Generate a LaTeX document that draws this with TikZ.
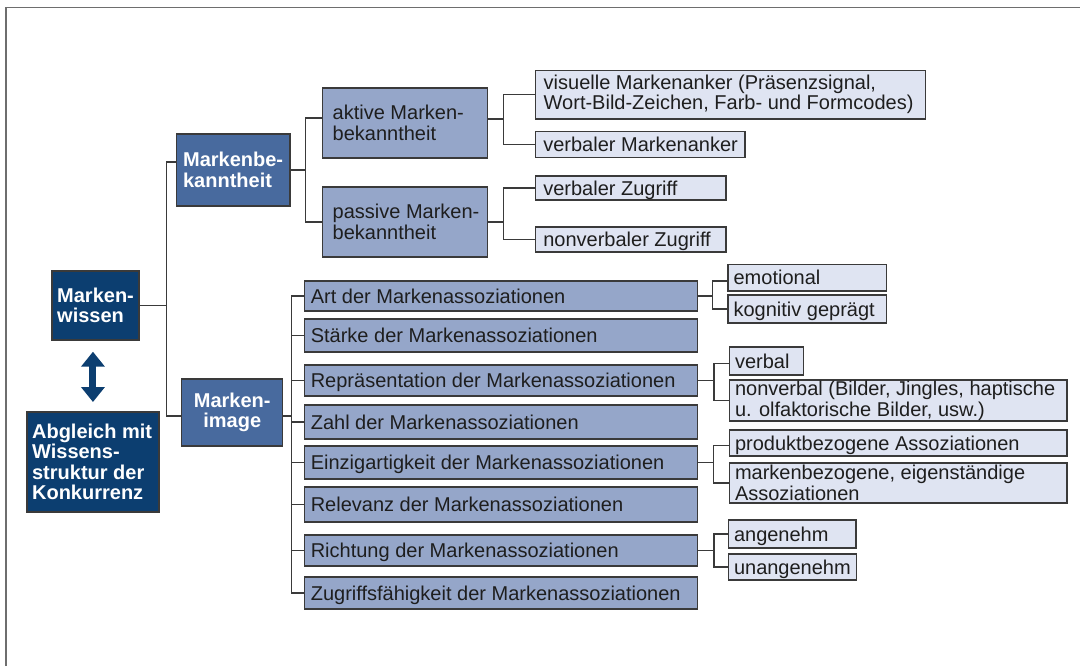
\documentclass[tikz,border=0pt]{standalone}
\usepackage{fontspec}
\setmainfont{Liberation Sans}
\usetikzlibrary{calc,arrows.meta}
\definecolor{navy}{RGB}{12,62,112}
\definecolor{midblue}{RGB}{72,106,158}
\definecolor{lightblue}{RGB}{149,166,201}
\definecolor{paleblue}{RGB}{223,228,242}
\definecolor{edgecol}{RGB}{58,58,58}
\definecolor{framecol}{RGB}{110,110,110}
\definecolor{ink}{RGB}{30,30,30}
% name, box style, text style, x1, y1, x2, y2, left pad (pt), text
\newcommand\mkbox[9]{%
  \pgfmathsetmacro\mkW{(#6-#4)*0.5}%
  \pgfmathsetmacro\mkH{(#7-#5)*0.5}%
  \node[#2, anchor=north west, minimum width=\mkW pt, minimum height=\mkH pt] (#1) at (#4,#5) {};
  \node[anchor=west, #3] (#1t) at ([xshift=#8pt]#1.west) {#9};}
\tikzset{
  box/.style={draw=edgecol, line width=0.65pt, inner sep=0pt, outer sep=0pt},
  navybox/.style={box, fill=navy},
  midbox/.style={box, fill=midblue},
  lightbox/.style={box, fill=lightblue},
  palebox/.style={box, fill=paleblue},
  wtxt/.style={inner sep=0pt, align=left, text=white, font=\bfseries\fontsize{10}{10.25}\selectfont},
  btxt/.style={inner sep=0pt, align=left, text=ink, font=\fontsize{10}{10}\selectfont},
  one/.style={btxt, text height=7.2pt, text depth=0pt},
  conn/.style={draw=edgecol, line width=0.65pt},
  thickconn/.style={draw=edgecol, line width=1.25pt},
}
\begin{document}
\begin{tikzpicture}[x=0.5pt, y=-0.5pt]
\useasboundingbox (0,0) rectangle (1080,666);
\fill[white] (0,0) rectangle (1080,666);
\draw[framecol, line width=0.8pt] (6.2,666) -- (6.2,7.3) -- (1080,7.3);

% left column
\mkbox{mw}{navybox}{wtxt}{52}{271}{139}{340}{2.4}{Marken-\\wissen}
\mkbox{ab}{navybox}{wtxt}{26.9}{412}{159}{512}{2.4}{Abgleich mit\\Wissens-\\struktur der\\Konkurrenz}
\mkbox{mb}{midbox}{wtxt}{176.7}{134}{290}{206}{3}{Markenbe-\\kanntheit}
\mkbox{mi}{midbox}{wtxt,align=center}{181.5}{379}{282.4}{446}{6}{Marken-\\image}

% Bekanntheit branch
\mkbox{ak}{lightbox}{btxt,font=\fontsize{10}{10.5}\selectfont}{322.7}{88}{487.3}{158}{4.8}{aktive Marken-\\bekanntheit}
\mkbox{pa}{lightbox}{btxt,font=\fontsize{10}{10.5}\selectfont}{322.7}{187}{487.3}{257}{4.8}{passive Marken-\\bekanntheit}
\mkbox{vis}{palebox}{btxt}{535.5}{70.3}{925.7}{119}{3.9}{visuelle Markenanker (Präsenzsignal,\\Wort-Bild-Zeichen, Farb- und Formcodes)}
\mkbox{vm}{palebox}{one}{535.5}{131.7}{744.9}{157.3}{3.7}{verbaler Markenanker}
\mkbox{vz}{palebox}{one}{535.5}{176}{726}{200}{3.7}{verbaler Zugriff}
\mkbox{nz}{palebox}{one}{535.5}{227}{726}{252}{3.7}{nonverbaler Zugriff}

% Image list
\mkbox{L1}{lightbox}{one}{304.8}{281}{697.4}{311}{2.8}{Art der Markenassoziationen}
\mkbox{L2}{lightbox}{one}{304.8}{319}{697.4}{352}{2.8}{Stärke der Markenassoziationen}
\mkbox{L3}{lightbox}{one}{304.8}{365}{697.4}{396}{2.8}{Repräsentation der Markenassoziationen}
\mkbox{L4}{lightbox}{one}{304.8}{405}{697.4}{439}{2.8}{Zahl der Markenassoziationen}
\mkbox{L5}{lightbox}{one}{304.8}{446}{697.4}{479}{2.8}{Einzigartigkeit der Markenassoziationen}
\mkbox{L6}{lightbox}{one}{304.8}{487}{697.4}{522}{2.8}{Relevanz der Markenassoziationen}
\mkbox{L7}{lightbox}{one}{304.8}{535}{697.4}{566}{2.8}{Richtung der Markenassoziationen}
\mkbox{L8}{lightbox}{one}{304.8}{577}{697.4}{609}{2.8}{Zugriffsfähigkeit der Markenassoziationen}

% leaves
\mkbox{em}{palebox}{one}{728}{264.5}{886.8}{291}{2.6}{emotional}
\mkbox{ko}{palebox}{one}{728}{295}{886.8}{323}{2.6}{kognitiv geprägt}
\mkbox{ve}{palebox}{one}{729.4}{347}{803.4}{375}{2.6}{verbal}
\mkbox{nv}{palebox}{btxt,font=\fontsize{10}{9}\selectfont}{729.4}{380}{1066.9}{421}{2.6}{nonverbal (Bilder, Jingles, haptische\\u. olfaktorische Bilder, usw.)}
\mkbox{pr}{palebox}{one}{729.4}{430}{1066.9}{456}{2.6}{produktbezogene Assoziationen}
\mkbox{mk}{palebox}{btxt,font=\fontsize{10}{8}\selectfont}{729.4}{463}{1066.9}{503}{2.6}{markenbezogene, eigenständige\\Assoziationen}
\mkbox{an}{palebox}{one}{728.4}{520}{856.1}{548}{2.6}{angenehm}
\mkbox{un}{palebox}{one}{728.4}{554}{856.8}{580}{2.6}{unangenehm}

% connectors
\coordinate (j1) at ($(mw.east)+(27.7,0)$);
\draw[conn] (mw.east) -- (j1);
\draw[conn] ($(mb.north west)!0.39!(mb.south west)$) -| (j1);
\draw[conn] ($(mi.north west)!0.55!(mi.south west)$) -| (j1);

\coordinate (j2) at ($(mb.east)+(15.8,0)$);
\draw[conn] (mb.east) -- (j2);
\draw[conn] ($(ak.north west)!0.43!(ak.south west)$) -| (j2);
\draw[conn] (pa.west) -| (j2);

\coordinate (j3) at ($(ak.north east)!0.44!(ak.south east)+(16.5,0)$);
\draw[thickconn] ($(ak.north east)!0.44!(ak.south east)$) -- (j3);
\draw[conn] (vis.west) -| (j3);
\draw[conn] (vm.west) -| (j3);

\coordinate (j4) at ($(pa.east)+(16.5,0)$);
\draw[thickconn] (pa.east) -- (j4);
\draw[conn] (vz.west) -| (j4);
\draw[conn] (nz.west) -| (j4);

\coordinate (j5) at ($(mi.north east)!0.55!(mi.south east)+(9.3,0)$);
\draw[conn] ($(mi.north east)!0.55!(mi.south east)$) -- (j5);
\foreach \n in {L1,L2,L3,L4,L5,L6,L7,L8} \draw[conn] (\n.west) -| (j5);

\coordinate (j6) at ($(L1.east)+(14.8,0)$);
\draw[conn] (L1.east) -- (j6);
\draw[conn] ($(em.north west)!0.62!(em.south west)$) -| (j6);
\draw[conn] (ko.west) -| (j6);

\coordinate (j7) at ($(L3.east)+(16.5,0)$);
\draw[conn] (L3.east) -- (j7);
\draw[conn] ($(ve.north west)!0.6!(ve.south west)$) -| (j7);
\draw[conn] (nv.west) -| (j7);

\coordinate (j8) at ($(L5.east)+(15.8,0)$);
\draw[conn] (L5.east) -- (j8);
\draw[conn] ($(pr.north west)!0.6!(pr.south west)$) -| (j8);
\draw[conn] (mk.west) -| (j8);

\coordinate (j9) at ($(L7.east)+(16.5,0)$);
\draw[conn] (L7.east) -- (j9);
\draw[conn] (an.west) -| (j9);
\draw[conn] (un.west) -| (j9);

% double arrow
\draw[navy, line width=3.5pt, {Triangle[width=11.5pt,length=7.5pt]}-{Triangle[width=11.5pt,length=7.5pt]}, shorten <=5.85pt, shorten >=5pt] (ab.north |- mw.south) -- (ab.north);
\end{tikzpicture}
\end{document}
